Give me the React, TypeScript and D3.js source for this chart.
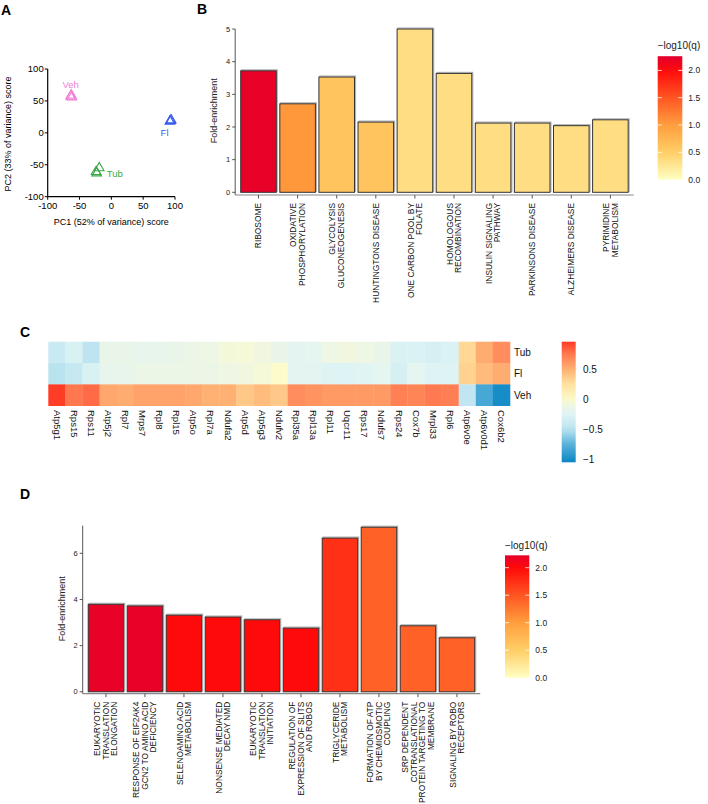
import React, { useEffect } from 'react';
import * as d3 from 'd3';

const FONT = '"Liberation Sans", Arial, Helvetica, sans-serif';

// A - PCA scores (three replicates per group)
const pcaGroup = ['Veh', 'Veh', 'Veh', 'Fl', 'Fl', 'Fl', 'Tub', 'Tub', 'Tub'];
const pcaPC1 = [-64, -63, -62, 93, 92, 94, -23, -19, -24];
const pcaPC2 = [57, 59, 56, 19, 18, 20, -63, -55, -61];
const pcaTicks = [-100, -50, 0, 50, 100];
const groupNames = ['Veh', 'Fl', 'Tub'];
const groupColors = ['#F07FD6', '#3A5BEF', '#35A845'];

// B - KEGG enrichment
const keggTerms = [
  ['RIBOSOME'],
  ['OXIDATIVE', 'PHOSPHORYLATION'],
  ['GLYCOLYSIS', 'GLUCONEOGENESIS'],
  ['HUNTINGTONS DISEASE'],
  ['ONE CARBON POOL BY', 'FOLATE'],
  ['HOMOLOGOUS', 'RECOMBINATION'],
  ['INSULIN SIGNALING', 'PATHWAY'],
  ['PARKINSONS DISEASE'],
  ['ALZHEIMERS DISEASE'],
  ['PYRIMIDINE', 'METABOLISM'],
];
const keggFold = [3.72, 2.71, 3.53, 2.15, 5.0, 3.64, 2.12, 2.12, 2.04, 2.22];
const keggLogQ = [2.2, 1.05, 0.6, 0.6, 0.35, 0.35, 0.35, 0.35, 0.35, 0.35];
const keggTicks = [0, 1, 2, 3, 4, 5];

// C - heatmap
const genes = ['Atp5g1', 'Rps15', 'Rps11', 'Atp5j2', 'Rpl7', 'Mrps7', 'Rpl8', 'Rpl15', 'Atp5o', 'Rpl7a',
  'Ndufa2', 'Atp5d', 'Atp5g3', 'Ndufv2', 'Rpl35a', 'Rpl13a', 'Rpl11', 'Uqcr11', 'Rps17', 'Ndufs7',
  'Rps24', 'Cox7b', 'Mrpl33', 'Rpl6', 'Atp6v0e', 'Atp6v0d1', 'Cox6b2'];
const heatRows = ['Tub', 'Fl', 'Veh'];
const heatTub = [-0.40, -0.30, -0.48, -0.15, -0.15, -0.18, -0.18, -0.15, -0.12, -0.10, -0.06, -0.05, -0.08, -0.15,
  -0.22, -0.20, -0.10, -0.08, -0.10, -0.15, -0.28, -0.28, -0.32, -0.28, 0.30, 0.52, 0.66];
const heatFl = [-0.50, -0.42, -0.30, -0.18, -0.16, -0.12, -0.12, -0.12, -0.12, -0.12, -0.10, -0.08, -0.05, 0.00,
  -0.22, -0.22, -0.27, -0.27, -0.25, -0.20, -0.32, -0.20, -0.26, -0.26, 0.33, 0.45, 0.52];
const heatVeh = [0.95, 0.76, 0.80, 0.54, 0.52, 0.56, 0.56, 0.56, 0.54, 0.50, 0.50, 0.38, 0.44, 0.38,
  0.66, 0.63, 0.60, 0.60, 0.60, 0.60, 0.72, 0.70, 0.75, 0.73, -0.45, -0.82, -1.0];
const heatTicks = [-1, -0.5, 0, 0.5];

// D - Reactome enrichment
const reactomeTerms = [
  ['EUKARYOTIC', 'TRANSLATION', 'ELONGATION'],
  ['RESPONSE OF EIF2AK4', 'GCN2 TO AMINO ACID', 'DEFICIENCY'],
  ['SELENOAMINO ACID', 'METABOLISM'],
  ['NONSENSE MEDIATED', 'DECAY NMD'],
  ['EUKARYOTIC', 'TRANSLATION', 'INITIATION'],
  ['REGULATION OF', 'EXPRESSION OF SLITS', 'AND ROBOS'],
  ['TRIGLYCERIDE', 'METABOLISM'],
  ['FORMATION OF ATP', 'BY CHEMIOSMOTIC', 'COUPLING'],
  ['SRP DEPENDENT', 'COTRANSLATIONAL', 'PROTEIN TARGETING TO', 'MEMBRANE'],
  ['SIGNALING BY ROBO', 'RECEPTORS'],
];
const reactomeFold = [3.79, 3.72, 3.32, 3.24, 3.12, 2.76, 6.66, 7.13, 2.86, 2.34];
const reactomeLogQ = [2.2, 2.2, 2.0, 2.0, 2.0, 2.0, 1.75, 1.42, 1.42, 1.42];
const reactomeTicks = [0, 2, 4, 6];

const qTicks = [0, 0.5, 1, 1.5, 2];

const qColor = d3.scaleLinear<string>()
  .domain([0, 0.5, 1, 1.5, 2, 2.25])
  .range(['#FFFFC2', '#FFCE66', '#FF9E3E', '#FF5522', '#FF0A0A', '#E2002E'])
  .clamp(true);

const heatColor = d3.scaleLinear<string>()
  .domain([-1.05, -0.75, -0.5, -0.25, -0.1, 0, 0.25, 0.5, 0.75, 0.96])
  .range(['#0A86C4', '#5AB2DA', '#BAE3F0', '#E0F4F4', '#EEF6E4', '#FBFBCB', '#FFE29E', '#FFB073', '#FF7A50', '#FF3A25'])
  .clamp(true);

const fmt = (v: number) => String(v);
const fmt1 = (v: number) => v.toFixed(1);

function PanelA() {
  const x = d3.scaleLinear().domain([-100, 100]).range([47.7, 175]);
  const y = d3.scaleLinear().domain([-100, 100]).range([196.7, 69]);
  const tri = d3.symbol(d3.symbolTriangle, 40)() as string;
  // label offsets from group's first point (px)
  const lab: Record<string, [number, number, string]> = {
    Veh: [0, -12, 'middle'],
    Fl: [-6, 12, 'middle'],
    Tub: [10, 1, 'start'],
  };
  return (
    <g fontFamily={FONT}>
      <line x1={x(-100)} x2={x(-100)} y1={y(100)} y2={y(-100)} stroke="#000" strokeWidth={1.2} />
      <line x1={x(-100)} x2={x(100)} y1={y(-100)} y2={y(-100)} stroke="#000" strokeWidth={1.2} />
      {pcaTicks.map(t => (
        <g key={'y' + t}>
          <line x1={x(-100) - 3} x2={x(-100)} y1={y(t)} y2={y(t)} stroke="#000" />
          <text x={x(-100) - 4} y={y(t)} dy="0.35em" textAnchor="end" fontSize={9.5}>{fmt(t)}</text>
        </g>
      ))}
      {pcaTicks.map(t => (
        <g key={'x' + t}>
          <line x1={x(t)} x2={x(t)} y1={y(-100)} y2={y(-100) + 3} stroke="#000" />
          <text x={x(t)} y={208.5} textAnchor="middle" fontSize={9.5}>{fmt(t)}</text>
        </g>
      ))}
      <text x={(x(-100) + x(100)) / 2} y={225} textAnchor="middle" fontSize={9}>PC1 (52% of variance) score</text>
      <text transform={`translate(11,134) rotate(-90)`} textAnchor="middle" fontSize={9}>PC2 (33% of variance) score</text>
      {pcaGroup.map((g, i) => (
        <path key={i} d={tri} transform={`translate(${x(pcaPC1[i])},${y(pcaPC2[i])})`}
          fill="none" stroke={groupColors[groupNames.indexOf(g)]} strokeWidth={1.1} />
      ))}
      {groupNames.map((g, gi) => {
        const i = pcaGroup.indexOf(g);
        const [dx, dy, anchor] = lab[g];
        return (
          <text key={g} x={x(pcaPC1[i]) + dx} y={y(pcaPC2[i]) + dy} dy="0.35em" textAnchor={anchor}
            fontSize={9.5} fill={groupColors[gi]}>{g}</text>
        );
      })}
    </g>
  );
}

type BarProps = {
  terms: string[][];
  fold: number[];
  logq: number[];
  ticks: number[];
  band: [number, number];
  yDom: [number, number];
  yRng: [number, number];
  yAxisTop: number;
  axisY: number;
  labelTop: number;
  legend: { x: number; w: number; zeroY: number; twoY: number; top: number; titleY: number };
  id: string;
};

function BarPanel(p: BarProps) {
  const x = d3.scaleBand<number>().domain(d3.range(p.terms.length)).range(p.band).paddingInner(0.09).paddingOuter(0.09);
  const y = d3.scaleLinear().domain(p.yDom).range(p.yRng);
  const axisX = p.band[0] - 2;
  const L = p.legend;
  const ly = d3.scaleLinear().domain([0, 2]).range([L.zeroY, L.twoY]);
  const stops = d3.range(0, 21).map(i => (i / 20) * L.top);
  const ls = 8.5;
  return (
    <g fontFamily={FONT}>
      <defs>
        <linearGradient id={p.id} x1="0" x2="0" y1="1" y2="0">
          {stops.map((v, i) => (
            <stop key={i} offset={`${(v / L.top) * 100}%`} stopColor={qColor(v)} />
          ))}
        </linearGradient>
      </defs>
      {p.fold.map((v, i) => (
        <g key={i}>
          <rect x={(x(i) as number) + 1} y={y(v) - 1} width={x.bandwidth()} height={y(0) - y(v)}
            fill="none" stroke="#b5b5b5" strokeWidth={1.2} />
          <rect x={x(i)} y={y(v)} width={x.bandwidth()} height={y(0) - y(v)}
            fill={qColor(p.logq[i])} stroke="#333" strokeWidth={1} />
        </g>
      ))}
      <line x1={axisX} x2={axisX} y1={p.axisY} y2={y(p.yAxisTop)} stroke="#555" strokeWidth={1} />
      <line x1={axisX} x2={p.band[1] + 2} y1={p.axisY} y2={p.axisY} stroke="#888" strokeWidth={1.2} />
      {p.ticks.map(t => (
        <g key={t}>
          <line x1={axisX - 3} x2={axisX} y1={y(t)} y2={y(t)} stroke="#555" />
          <text x={axisX - 5} y={y(t)} dy="0.35em" textAnchor="end" fontSize={7.5} fill="#222">{t}</text>
        </g>
      ))}
      <text transform={`translate(${axisX - 18},${(y(0) + y(p.yAxisTop)) / 2}) rotate(-90)`} textAnchor="middle"
        fontSize={9} fill="#222">Fold-enrichment</text>
      {p.terms.map((lines, i) => {
        const cx = (x(i) as number) + x.bandwidth() / 2;
        return (
          <g key={i}>
            <line x1={cx} x2={cx} y1={p.axisY} y2={p.axisY + 3.5} stroke="#555" />
            <text transform={`translate(${cx},${p.labelTop}) rotate(-90)`} textAnchor="end" fontSize={8.4} fill="#111">
              {lines.map((s, j) => (
                <tspan key={j} x={0} y={(j - (lines.length - 1) / 2) * ls} dy="0.35em">{s}</tspan>
              ))}
            </text>
          </g>
        );
      })}
      <text x={L.x} y={L.titleY} fontSize={10} fill="#222">−log10(q)</text>
      <rect x={L.x} y={ly(L.top)} width={L.w} height={ly(0) - ly(L.top)} fill={`url(#${p.id})`} />
      {qTicks.map(t => (
        <g key={t}>
          {t > 0 && <line x1={L.x} x2={L.x + 4} y1={ly(t)} y2={ly(t)} stroke="#fff" strokeOpacity={0.8} />}
          {t > 0 && <line x1={L.x + L.w - 4} x2={L.x + L.w} y1={ly(t)} y2={ly(t)} stroke="#fff" strokeOpacity={0.8} />}
          <text x={L.x + L.w + 6} y={ly(t)} dy="0.35em" fontSize={8.5} fill="#222">{fmt1(t)}</text>
        </g>
      ))}
    </g>
  );
}

function PanelC() {
  const x = d3.scaleBand<string>().domain(genes).range([48.3, 510]);
  const y = d3.scaleBand<string>().domain(heatRows).range([341.7, 405.7]);
  const vals: Record<string, number[]> = { Tub: heatTub, Fl: heatFl, Veh: heatVeh };
  const ly = d3.scaleLinear().domain([0.5, -1]).range([369.3, 459.3]);
  const top = 0.96;
  const bottom = -1.05;
  const stops = d3.range(0, 21).map(i => bottom + (i / 20) * (top - bottom));
  return (
    <g fontFamily={FONT}>
      <defs>
        <linearGradient id="heatGrad" x1="0" x2="0" y1="1" y2="0">
          {stops.map((v, i) => (
            <stop key={i} offset={`${(i / 20) * 100}%`} stopColor={heatColor(v)} />
          ))}
        </linearGradient>
      </defs>
      {heatRows.map(r => genes.map((g, i) => (
        <rect key={r + g} x={x(g)} y={y(r)} width={x.bandwidth() + 0.3} height={y.bandwidth() + 0.3}
          fill={heatColor(vals[r][i])} />
      )))}
      {heatRows.map(r => (
        <text key={r} x={514} y={(y(r) as number) + y.bandwidth() / 2} dy="0.35em" fontSize={10} fill="#111">{r}</text>
      ))}
      {genes.map(g => (
        <text key={g} transform={`translate(${(x(g) as number) + x.bandwidth() / 2},410) rotate(90)`}
          dy="0.35em" fontSize={9.5} fill="#111">{g}</text>
      ))}
      <rect x={561.7} y={ly(top)} width={14} height={ly(bottom) - ly(top)} fill="url(#heatGrad)" />
      {heatTicks.map(t => (
        <text key={t} x={583} y={ly(t)} dy="0.35em" fontSize={10} fill="#111">{t < 0 ? '−' + Math.abs(t) : String(t)}</text>
      ))}
    </g>
  );
}

export default function App() {
  useEffect(() => {
    document.body.style.margin = '0';
  }, []);
  return (
    <svg width={708} height={804} viewBox="0 0 708 804" style={{ display: 'block', background: '#fff' }}>
      <g fontFamily={FONT} fontWeight="bold" fontSize={14}>
        <text x={1} y={15}>A</text>
        <text x={197} y={14}>B</text>
        <text x={20} y={337}>C</text>
        <text x={20} y={499}>D</text>
      </g>
      <PanelA />
      <BarPanel id="gradB" terms={keggTerms} fold={keggFold} logq={keggLogQ} ticks={keggTicks}
        band={[237.2, 631.7]} yDom={[0, 5]} yRng={[192.3, 29]} yAxisTop={5} axisY={195} labelTop={203}
        legend={{ x: 657.7, w: 24.6, zeroY: 179.6, twoY: 70.4, top: 2.26, titleY: 49 }} />
      <PanelC />
      <BarPanel id="gradD" terms={reactomeTerms} fold={reactomeFold} logq={reactomeLogQ} ticks={reactomeTicks}
        band={[84.7, 478.2]} yDom={[0, 6]} yRng={[691.8, 553.3]} yAxisTop={7.2} axisY={693.7} labelTop={701.7}
        legend={{ x: 505, w: 24.3, zeroY: 677.7, twoY: 567.7, top: 2.225, titleY: 548.7 }} />
    </svg>
  );
}
